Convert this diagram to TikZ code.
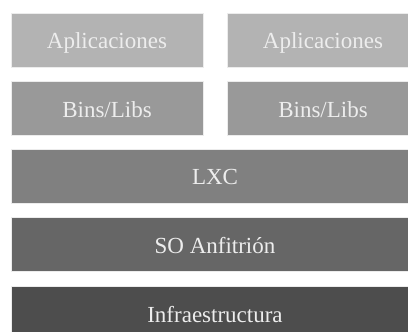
\documentclass[tikz,border=0pt]{standalone}
\usepackage{fontspec}
\setmainfont{Liberation Serif}
\usetikzlibrary{positioning}

\definecolor{appgray}{HTML}{B3B3B3}
\definecolor{libgray}{HTML}{999999}
\definecolor{lxcgray}{HTML}{808080}
\definecolor{hostgray}{HTML}{666666}
\definecolor{infragray}{HTML}{4D4D4D}

\begin{document}
\begin{tikzpicture}[x=1pt,y=1pt,
        layer/.style={draw=white!85!gray,line width=0.6pt,minimum height=54pt,
          inner sep=0pt,text height=18pt,text depth=0pt,% baseline a bit under the middle
          text=white!93!black,font=\fontsize{23}{27}\selectfont},% all boxes
        half/.style={layer,minimum width=192pt},
        full/.style={layer,minimum width=408pt}]
\useasboundingbox (0,0) rectangle (408,332);
\node[half,fill=appgray] (app1) at (107,292) {Aplicaciones};
\node[half,fill=appgray] (app2) at (323,292) {Aplicaciones};
\node[half,fill=libgray,below=14pt of app1] (libs1) {Bins/Libs};
\node[half,fill=libgray,below=14pt of app2] (libs2) {Bins/Libs};
\node[full,fill=lxcgray] (lxc) at (215,156) {LXC}; % spans under both containers
\node[full,fill=hostgray,below=14pt of lxc] (host) {SO Anfitrión};
\node[full,fill=infragray,below=14pt of host] (infra) {Infraestructura};
\end{tikzpicture}
\end{document}
